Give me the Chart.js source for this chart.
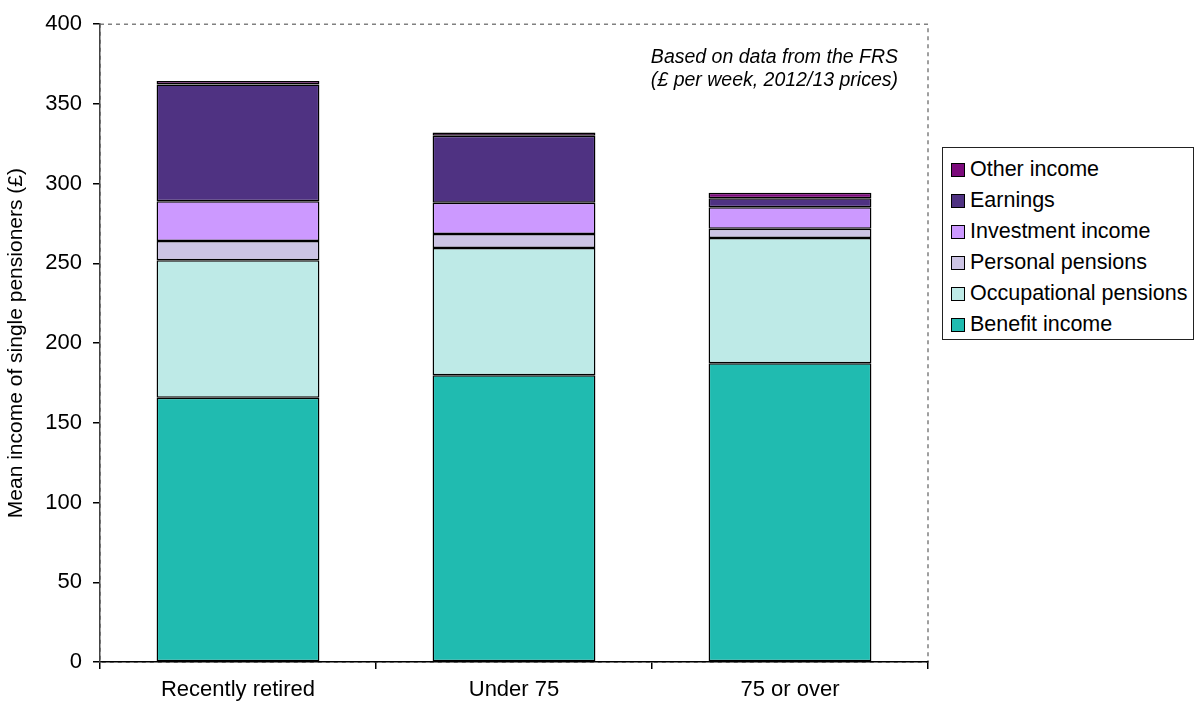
<!DOCTYPE html>
<html>
<head>
<meta charset="utf-8">
<title>Mean income of single pensioners</title>
<script src="https://cdn.jsdelivr.net/npm/chart.js@4.4.0/dist/chart.umd.min.js"></script>
<style>
  html, body { margin: 0; padding: 0; background: #fff; }
  #wrap { position: relative; width: 1194px; height: 708px; }
  #legend {
    position: absolute; left: 942px; top: 147px; width: 252px; height: 193px;
    border: 1px solid #222; box-sizing: border-box; background: #fff;
    font-family: "Liberation Sans", Arial, sans-serif; font-size: 21.5px; color: #000;
    padding-top: 6px;
  }
  #legend .item { display: flex; align-items: center; height: 31px; padding-left: 8px; }
  #legend .sw { width: 12px; height: 12px; border: 1.5px solid #000; margin-right: 5px; flex: none; }
</style>
</head>
<body>
<div id="wrap">
  <canvas id="incomeChart" width="1194" height="708"></canvas>
  <div id="legend"></div>
</div>
<script>
// Mean income of single pensioners, £ per week (2012/13 prices)
const groups = ['Recently retired', 'Under 75', '75 or over'];

const benefitIncome = [165.7, 179.9, 187.3];
const occupationalPensions = [86.2, 79.7, 78.6];
const personalPensions = [12.1, 8.9, 5.8];
const investmentIncome = [24.9, 19.5, 13.5];
const earnings = [73.3, 42.0, 5.6];
const otherIncome = [2.1, 2.1, 3.5];

const yTicks = [0, 50, 100, 150, 200, 250, 300, 350, 400];

const noteLines = ['Based on data from the FRS', '(£ per week, 2012/13 prices)'];

const FONT = '"Liberation Sans", Arial, sans-serif';

function series(label, data, color) {
    return {
        label: label,
        data: data,
        backgroundColor: color,
        borderColor: '#000',
        borderWidth: 1.5,
        borderSkipped: false,
        categoryPercentage: 1,
        barPercentage: 0.59
    };
}

const datasets = [
    series('Benefit income', benefitIncome, '#20BBB0'),
    series('Occupational pensions', occupationalPensions, '#BEEAE7'),
    series('Personal pensions', personalPensions, '#CCC4E4'),
    series('Investment income', investmentIncome, '#CC99FF'),
    series('Earnings', earnings, '#4F3282'),
    series('Other income', otherIncome, '#7B0A7B')
];

// dashed frame round the plot area
const framePlugin = {
    id: 'frame',
    beforeDraw(chart) {
        const a = chart.chartArea;
        const ctx = chart.ctx;
        ctx.save();
        ctx.strokeStyle = '#808080';
        ctx.lineWidth = 1.5;
        ctx.setLineDash([4, 4]);
        ctx.strokeRect(a.left, a.top, a.right - a.left, a.bottom - a.top);
        ctx.restore();
    }
};

// italic note in the top right of the plot
const notePlugin = {
    id: 'note',
    afterDraw(chart) {
        const ctx = chart.ctx;
        const x = chart.chartArea.right - 30;
        ctx.save();
        ctx.font = 'italic 19.5px ' + FONT;
        ctx.fillStyle = '#000';
        ctx.textAlign = 'right';
        ctx.textBaseline = 'middle';
        noteLines.forEach((line, i) => {
            ctx.fillText(line, x, chart.chartArea.top + 33 + i * 23);
        });
        ctx.restore();
    }
};

const ctx = document.getElementById('incomeChart').getContext('2d');
const incomeChart = new Chart(ctx, {
    type: 'bar',
    data: { labels: groups, datasets: datasets },
    options: {
        responsive: false,
        animation: false,
        devicePixelRatio: 1,
        layout: { padding: { left: 0, right: 266, top: 20, bottom: 0 } },
        plugins: {
            legend: { display: false },
            tooltip: { enabled: false }
        },
        scales: {
            x: {
                stacked: true,
                afterFit(scale) { scale.height = 46; },
                grid: {
                    offset: true,
                    drawOnChartArea: false,
                    drawTicks: true,
                    tickLength: 7,
                    color: '#000',
                    lineWidth: 1.5
                },
                border: { display: true, color: '#000', width: 1.5 },
                ticks: {
                    color: '#000',
                    padding: 8,
                    font: { family: FONT, size: 22 }
                }
            },
            y: {
                stacked: true,
                min: 0,
                max: 400,
                afterFit(scale) { scale.width = 100; },
                afterBuildTicks(scale) {
                    scale.ticks = yTicks.map(v => ({ value: v }));
                },
                grid: {
                    drawOnChartArea: false,
                    drawTicks: true,
                    tickLength: 7,
                    color: '#000',
                    lineWidth: 1.5
                },
                border: { display: true, color: '#444', width: 1.5, dash: [4, 3] },
                ticks: {
                    color: '#000',
                    padding: 11,
                    font: { family: FONT, size: 22 }
                },
                title: {
                    display: true,
                    text: 'Mean income of single pensioners (£)',
                    color: '#000',
                    padding: { top: 4, bottom: 0 },
                    font: { family: FONT, size: 21 }
                }
            }
        }
    },
    plugins: [framePlugin, notePlugin]
});

// legend, top entry is the top of the stack
const legendEl = document.getElementById('legend');
legendEl.innerHTML = datasets.slice().reverse().map(ds =>
    `<div class="item"><span class="sw" style="background:${ds.backgroundColor}"></span>${ds.label}</div>`
).join('');
</script>
</body>
</html>
